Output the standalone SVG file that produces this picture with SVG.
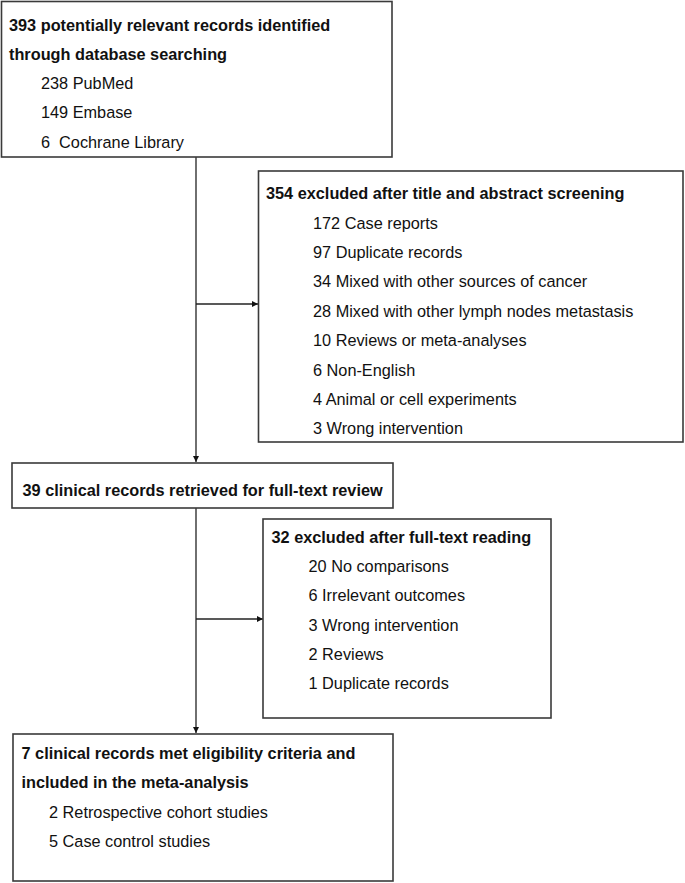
<svg xmlns="http://www.w3.org/2000/svg" width="685" height="883" viewBox="0 0 685 883">
<defs>
<style>
.box{fill:#fff;stroke:#3a3a3a;stroke-width:1.6}
.t{font-family:"Liberation Sans",Arial,sans-serif;font-size:16.3px;fill:#111;white-space:pre}
.b{font-weight:bold}
.c{fill:none;stroke:#222;stroke-width:1.3}
</style>
<marker id="ah" markerUnits="userSpaceOnUse" markerWidth="8" markerHeight="8" refX="6" refY="3" orient="auto">
<path d="M0,0 L6,3 L0,6 Z" fill="#111"/>
</marker>
</defs>
<rect width="685" height="883" fill="#fff"/>
<g id="connectors">
<path class="c" d="M196,157 V462" marker-end="url(#ah)"/>
<path class="c" d="M196,304 H258" marker-end="url(#ah)"/>
<path class="c" d="M196,508 V733" marker-end="url(#ah)"/>
<path class="c" d="M196,619 H263" marker-end="url(#ah)"/>
</g>
<g id="identified">
<rect class="box" x="1.5" y="1.5" width="390.5" height="155.5"/>
<text class="t b" x="9" y="31">393 potentially relevant records identified</text>
<text class="t b" x="9" y="59.5">through database searching</text>
<text class="t" x="41" y="89">238 PubMed</text>
<text class="t" x="41" y="118">149 Embase</text>
<text class="t" x="41" y="147.5">6  Cochrane Library</text>
</g>
<g id="excluded1">
<rect class="box" x="258.5" y="171" width="424.5" height="271"/>
<text class="t b" x="266" y="199">354 excluded after title and abstract screening</text>
<text class="t" x="313" y="228.5">172 Case reports</text>
<text class="t" x="313" y="258">97 Duplicate records</text>
<text class="t" x="313" y="287">34 Mixed with other sources of cancer</text>
<text class="t" x="313" y="316.5">28 Mixed with other lymph nodes metastasis</text>
<text class="t" x="313" y="346">10 Reviews or meta-analyses</text>
<text class="t" x="313" y="375.5">6 Non-English</text>
<text class="t" x="313" y="404.5">4 Animal or cell experiments</text>
<text class="t" x="313" y="434">3 Wrong intervention</text>
</g>
<g id="retrieved">
<rect class="box" x="12" y="463" width="381" height="45"/>
<text class="t b" x="22.5" y="496">39 clinical records retrieved for full-text review</text>
</g>
<g id="excluded2">
<rect class="box" x="263" y="519" width="288" height="199"/>
<text class="t b" x="271.5" y="542.5">32 excluded after full-text reading</text>
<text class="t" x="308.5" y="571.5">20 No comparisons</text>
<text class="t" x="308.5" y="601">6 Irrelevant outcomes</text>
<text class="t" x="308.5" y="630.5">3 Wrong intervention</text>
<text class="t" x="308.5" y="660">2 Reviews</text>
<text class="t" x="308.5" y="689">1 Duplicate records</text>
</g>
<g id="included">
<rect class="box" x="13" y="734" width="380" height="147"/>
<text class="t b" x="21.5" y="758.5">7 clinical records met eligibility criteria and</text>
<text class="t b" x="21.5" y="788">included in the meta-analysis</text>
<text class="t" x="49" y="817.5">2 Retrospective cohort studies</text>
<text class="t" x="49" y="846.5">5 Case control studies</text>
</g>
</svg>
